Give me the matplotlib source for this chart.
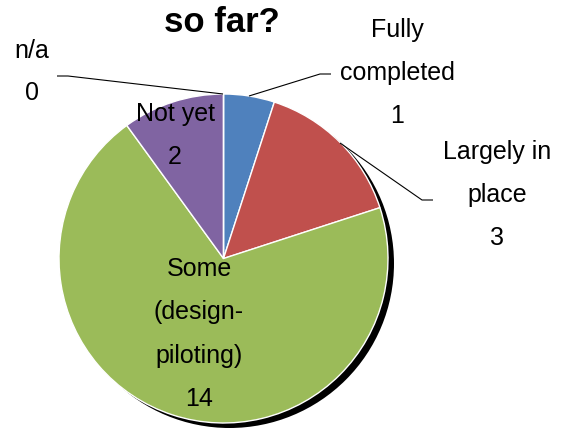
import matplotlib
matplotlib.use("Agg")
import matplotlib.pyplot as plt
from matplotlib.patches import Circle

categories = ["Fully\ncompleted", "Largely in\nplace", "Some\n(design-\npiloting)", "Not yet", "n/a"]
values = [1, 3, 14, 2, 0]
colors = ["#4F81BD", "#C0504D", "#9BBB59", "#8064A2", "#F79646"]
title = "so far?"

W, H = 562, 430
fig = plt.figure(figsize=(W / 100, H / 100), dpi=100)
ax = fig.add_axes([0, 0, 1, 1])

cx, cy, r = 223.5, H - 258.5, 164.5
font = ["Liberation Sans", "DejaVu Sans"]

# black shadow
ax.add_patch(Circle((cx + 6, cy - 5), r, facecolor="black", edgecolor="none", zorder=1))

wedges, _ = ax.pie(values, colors=colors, startangle=90, counterclock=False,
                   center=(cx, cy), radius=r, frame=True,
                   wedgeprops=dict(edgecolor="white", linewidth=1.0, zorder=2))
ax.set_xlim(0, W)
ax.set_ylim(0, H)
ax.set_aspect("equal")
ax.axis("off")

fs = 18
ls = 2.0

def label(x, y, s):
    ax.text(x, H - y, s, ha="center", va="center", fontsize=fs, family=font,
            linespacing=ls, zorder=5)

label(397, 73, categories[0] + "\n" + str(values[0]))
label(497, 195, categories[1] + "\n" + str(values[1]))
label(199, 334, categories[2] + "\n" + str(values[2]))
label(175, 135, categories[3] + "\n" + str(values[3]))
label(32, 72, categories[4] + "\n" + str(values[4]))

def leader(pts):
    xs = [p[0] for p in pts]
    ys = [H - p[1] for p in pts]
    ax.plot(xs, ys, color="black", lw=0.8, zorder=4, solid_capstyle="butt")

leader([(249, 96), (320, 74), (331, 74)])
leader([(340, 143), (422, 200), (433, 200)])
leader([(223, 94), (68, 76), (57, 76)])

ax.text(222, H - 23, title, ha="center", va="center", fontsize=25,
        fontweight="bold", family=font, zorder=5)

fig.savefig("out.png", dpi=100)
